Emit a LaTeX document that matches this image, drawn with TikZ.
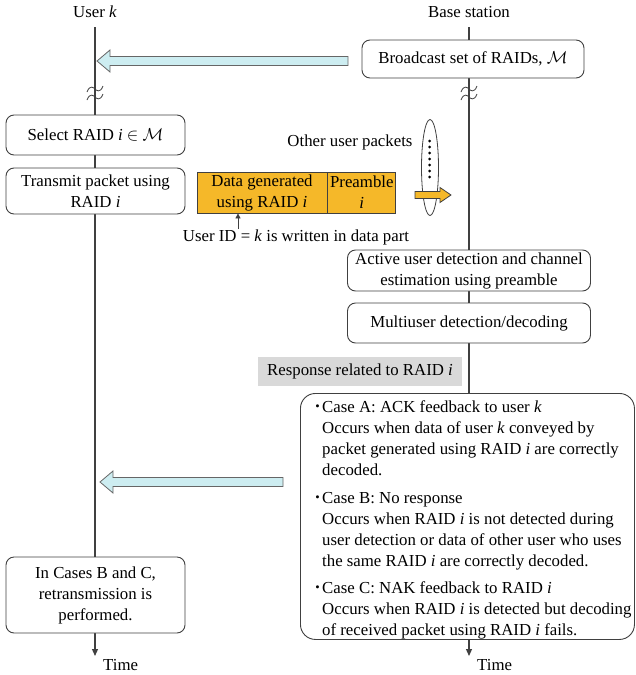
\documentclass[tikz,border=0pt]{standalone}
\usepackage{fontspec}
\usepackage{graphicx}
\setmainfont{Liberation Serif}
\usetikzlibrary{arrows.meta,shapes.geometric}
\definecolor{linec}{HTML}{404040}
\definecolor{blu}{HTML}{CDEDF1}
\definecolor{orng}{HTML}{F5B829}
\definecolor{gry}{HTML}{D9D9D9}
\newcommand\cbul{\llap{\raisebox{0.15ex}{\scalebox{0.75}{\textbullet}}\hspace{2.5pt}}}
\begin{document}
\begin{tikzpicture}[x=1pt,y=-1pt,
  every node/.style={font=\fontsize{16.8}{21}\selectfont, inner sep=0pt},
  box/.style={draw=linec, line width=0.9pt, rounded corners=8pt, fill=white, align=center},
  vline/.style={draw=linec, line width=1.2pt},
  timearrow/.style={vline, -{Triangle[length=7pt,width=6pt]}},
  blockarrow/.style={draw=linec!80, fill=blu, line width=0.8pt, line join=miter},
  packet/.style={draw=linec, fill=orng, line width=0.8pt, align=center},
  brk/.style={draw=linec, line width=0.8pt},
  brkpic/.pic={\draw[brk] (-8,3) .. controls (-5,-5) and (-1,-1) .. (0,0) .. controls (1,1) and (5,5) .. (8,-3);}
]
\useasboundingbox (0,0) rectangle (636,675);

% lifeline labels
\node (ulab) at (95,12) {User \textit{k}};
\node (blab) at (469,12) {Base station};

% lifelines
\coordinate (utop) at (95,27); \coordinate (ubot) at (95,656);
\coordinate (btop) at (469,27); \coordinate (bbot) at (469,656);
\draw[timearrow] (utop) -- (ubot);
\draw[timearrow] (btop) -- (bbot);
\node[anchor=west] (ut) at (103,665) {Time};
\node[anchor=west] (bt) at (477,665) {Time};

% break marks
\pic at (95,89) {brkpic};
\pic at (95,97) {brkpic};
\pic at (469,89) {brkpic};
\pic at (469,97) {brkpic};

% base station boxes
\node[box, minimum width=222pt, minimum height=38pt] (bc) at (473,59) {Broadcast set of RAIDs, $\mathcal{M}$};
\node[box, minimum width=243pt, minimum height=41pt] (aud) at (469,270.5) {Active user detection and channel\\estimation using preamble};
\node[box, minimum width=243pt, minimum height=40pt] (mud) at (469,323) {Multiuser detection/decoding};
\node[fill=gry, minimum width=204pt, minimum height=29pt] (resp) at (360,371.5) {Response related to RAID \textit{i}};
\node[box, rounded corners=15pt, minimum width=334pt, minimum height=246pt, anchor=north west] (cases) at (300,393) {};
\node[anchor=north west, align=left] (ctext) at (322,400) {%
\cbul Case A: ACK feedback to user \textit{k}\\
Occurs when data of user \textit{k} conveyed by\\
packet generated using RAID \textit{i} are correctly\\
decoded.\\[7pt]
\cbul Case B: No response\\
Occurs when RAID \textit{i} is not detected during\\
user detection or data of other user who uses\\
the same RAID \textit{i} are correctly decoded.\\[6pt]
\cbul Case C: NAK feedback to RAID \textit{i}\\
Occurs when RAID \textit{i} is detected but decoding\\
of received packet using RAID \textit{i} fails.};

% user boxes
\node[box, minimum width=179pt, minimum height=40pt] (sel) at (95.5,135) {Select RAID \textit{i} $\in$ $\mathcal{M}$};
\node[box, minimum width=179pt, minimum height=46pt] (tx) at (95.5,191) {Transmit packet using\\RAID \textit{i}};
\node[box, minimum width=179pt, minimum height=76pt] (retx) at (95.5,595) {In Cases B and C,\\retransmission is\\performed.};

% packet
\node[packet, minimum width=130pt, minimum height=41pt] (data) at (262,192.5) {Data generated\\using RAID \textit{i}};
\node[packet, minimum width=68pt, minimum height=41pt, anchor=west] (pre) at (data.east) {Preamble\\\textit{i}};
\node (uid) at (296,237) {User ID = \textit{k} is written in data part};
\coordinate (ax) at (238,0);
\draw[linec, line width=0.8pt, -{Triangle[length=5pt,width=5pt]}] (uid.north -| ax) -- (data.south -| ax);

% other user packets
\node (oup) at (350,142) {Other user packets};
\node[ellipse, draw=linec, line width=0.8pt, minimum width=17pt, minimum height=96pt] (ell) at (430,167.5) {};
\foreach \k in {0,...,6} \fill[black] (429.5,141+6*\k) circle (1.5pt);
\draw[packet] (415,191.5) -- (440,191.5) -- (440,187.5) -- (451,195) -- (440,202.5) -- (440,198.5) -- (415,198.5) -- cycle;

% block arrows to user
\draw[blockarrow] (348,56.5) -- (110,56.5) -- (110,50) -- (97,61) -- (110,72) -- (110,65.5) -- (348,65.5) -- cycle;
\draw[blockarrow] (283,477.5) -- (113,477.5) -- (113,471) -- (100,482) -- (113,493) -- (113,486.5) -- (283,486.5) -- cycle;
\end{tikzpicture}
\end{document}
